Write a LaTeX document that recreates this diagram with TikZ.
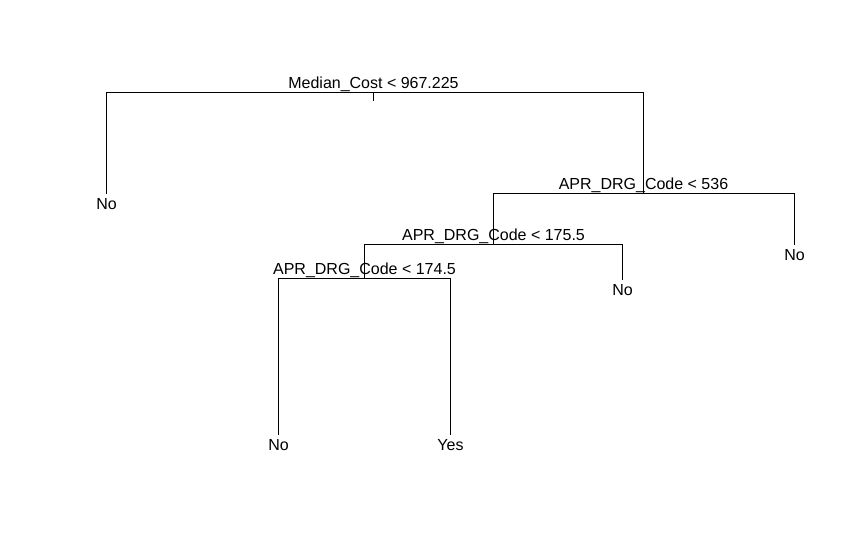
\documentclass[tikz,border=0pt]{standalone}
\usepackage{fontspec}
\setmainfont{Liberation Sans}
\usetikzlibrary{positioning}

\begin{document}
\begin{tikzpicture}[x=1pt,y=-1pt,line width=1pt,
                    font=\fontsize{16}{19}\selectfont,
                    split/.style={inner sep=0pt,outer sep=0pt},
                    leaf/.style={inner xsep=0pt,inner ysep=5pt,outer sep=0pt}]

  \path[fill=white,use as bounding box] (0,0) rectangle (862,546);

  \coordinate (s1) at (373.5,92.5);
  \coordinate (s2) at (643.5,193.5);
  \coordinate (s3) at (493.5,244.5);
  \coordinate (s4) at (364.5,278.5);

  \node[split,above=0.5pt of s1] (t1) {Median\_Cost < 967.225};
  \node[split,above=0.5pt of s2] (t2) {APR\_DRG\_Code < 536};
  \node[split,above=0.5pt of s3] (t3) {APR\_DRG\_Code < 175.5};
  \node[split,above=0.5pt of s4] (t4) {APR\_DRG\_Code < 174.5};

  \node[leaf] (l1) at (106.5,204.5) {No};
  \node[leaf] (l2) at (794.5,255.5) {No};
  \node[leaf] (l3) at (622.5,290.5) {No};
  \node[leaf] (l4) at (278.5,445.5) {No};
  \node[leaf] (l5) at (450.5,445.5) {Yes};

  \draw (s1) -- ++(0,8);
  \draw (l1.north) |- (s1) -| (s2);
  \draw (s3) |- (s2) -| (l2.north);
  \draw (s4) |- (s3) -| (l3.north);
  \draw (l4.north) |- (s4) -| (l5.north);
\end{tikzpicture}
\end{document}
